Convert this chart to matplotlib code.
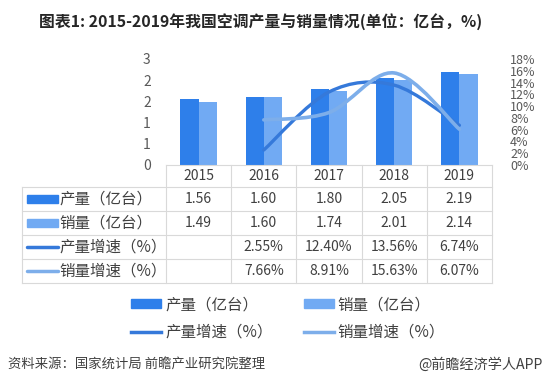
import numpy as np
import matplotlib
matplotlib.use('Agg')
import matplotlib.pyplot as plt
from matplotlib.path import Path
from matplotlib.patches import PathPatch, Rectangle
from matplotlib.lines import Line2D

plt.rcParams['font.family'] = ['Noto Sans CJK SC', 'DejaVu Sans']

YEARS = ['2015', '2016', '2017', '2018', '2019']
OUTPUT = [1.56, 1.60, 1.80, 2.05, 2.19]
SALES = [1.49, 1.60, 1.74, 2.01, 2.14]
OUTPUT_GROWTH = [None, 2.55, 12.40, 13.56, 6.74]
SALES_GROWTH = [None, 7.66, 8.91, 15.63, 6.07]

ROW_LABELS = ['产量（亿台）', '销量（亿台）', '产量增速（%）', '销量增速（%）']

C_OUT_BAR = '#2E7FEA'
C_SALES_BAR = '#71AAF3'
C_OUT_LINE = '#3579DA'
C_SALES_LINE = '#7DAEEA'
GRID = '#D9D9D9'
TXT = '#404040'

W, H = 548, 387
L, R = 166, 492          # plot / table column area (px)
TOP, BOT = 59, 165       # value axis (px)
TAB_L, TAB_B = 22, 283   # table outer edges (px)
CW = (R - L) / 5


def smooth_path(xs, ys):
    # Catmull-Rom style bezier, like excel's "smoothed line"
    n = len(xs)
    verts = [(xs[0], ys[0])]
    codes = [Path.MOVETO]
    for i in range(n - 1):
        a = i - 1 if i > 0 else i
        d = i + 2 if i + 2 < n else i + 1
        c1 = (xs[i] + (xs[i + 1] - xs[a]) / 6, ys[i] + (ys[i + 1] - ys[a]) / 6)
        c2 = (xs[i + 1] - (xs[d] - xs[i]) / 6, ys[i + 1] - (ys[d] - ys[i]) / 6)
        verts += [c1, c2, (xs[i + 1], ys[i + 1])]
        codes += [Path.CURVE4] * 3
    return Path(verts, codes)


fig = plt.figure(figsize=(W / 100, H / 100), dpi=100)

ax = fig.add_axes([L / W, 1 - BOT / H, (R - L) / W, (BOT - TOP) / H])
x = np.arange(len(YEARS)) + 0.5
bw = 0.28
ax.bar(x - bw / 2, OUTPUT, bw, color=C_OUT_BAR, zorder=2)
ax.bar(x + bw / 2, SALES, bw, color=C_SALES_BAR, zorder=2)
ax.set_xlim(0, 5)
ax.set_ylim(0, 2.5)
yt = np.arange(0, 2.51, 0.5)
ax.set_yticks(yt)
ax.set_yticklabels([str(int(v + 0.5)) for v in yt])
ax.set_xticks([])
ax.tick_params(axis='y', length=0, pad=11, labelsize=10, labelcolor='#595959')
for s in ['top', 'right', 'left']:
    ax.spines[s].set_visible(False)
ax.spines['bottom'].set_color(GRID)

ax2 = ax.twinx()
ax2.set_ylim(0, 18)
ax2.set_yticks(np.arange(0, 19, 2))
ax2.set_yticklabels([f'{v}%' for v in range(0, 19, 2)])
ax2.tick_params(axis='y', length=0, pad=13, labelsize=9, labelcolor='#595959')
for s in ax2.spines.values():
    s.set_visible(False)

for vals, col, lw in [(OUTPUT_GROWTH, C_OUT_LINE, 2.4), (SALES_GROWTH, C_SALES_LINE, 2.6)]:
    xs = [xi for xi, v in zip(x, vals) if v is not None]
    ys = [v for v in vals if v is not None]
    ax2.add_patch(PathPatch(smooth_path(xs, ys), fill=False, edgecolor=col,
                            lw=lw, capstyle='round', zorder=3))

# data table below the chart
tax = fig.add_axes([TAB_L / W, 1 - TAB_B / H, (R - TAB_L) / W, (TAB_B - BOT) / H])
tax.set_xlim(-(L - TAB_L) / CW, 5)
tax.set_ylim(TAB_B - BOT, 0)
tax.axis('off')
rows = [0, 22, 46, 70, 94, 118]
x0 = -(L - TAB_L) / CW
for r in rows[1:]:
    tax.plot([x0, 5], [r, r], color=GRID, lw=0.8, clip_on=False)
tax.plot([x0, x0], [rows[1], rows[-1]], color=GRID, lw=0.8, clip_on=False)
for i in range(6):
    tax.plot([i, i], [0, rows[-1]], color=GRID, lw=0.8, clip_on=False)

for i, yr in enumerate(YEARS):
    tax.text(i + 0.5, 11, yr, ha='center', va='center', fontsize=10, color=TXT)

table_vals = [
    [f'{v:.2f}' for v in OUTPUT],
    [f'{v:.2f}' for v in SALES],
    ['' if v is None else f'{v:.2f}%' for v in OUTPUT_GROWTH],
    ['' if v is None else f'{v:.2f}%' for v in SALES_GROWTH],
]
px = lambda p: (p - L) / CW
for r, (lab, vals) in enumerate(zip(ROW_LABELS, table_vals)):
    yc = (rows[r + 1] + rows[r + 2]) / 2
    for i, v in enumerate(vals):
        tax.text(i + 0.5, yc, v, ha='center', va='center', fontsize=10, color=TXT)
    if r < 2:
        col = C_OUT_BAR if r == 0 else C_SALES_BAR
        tax.add_patch(Rectangle((px(27), yc - 4), px(58) - px(27), 8, color=col, clip_on=False))
    else:
        col = C_OUT_LINE if r == 2 else C_SALES_LINE
        tax.plot([px(27), px(58)], [yc, yc], color=col, lw=2.5, clip_on=False,
                 solid_capstyle='round')
    tax.text(px(59), yc, lab, ha='left', va='center', fontsize=11.2, color=TXT)

# legend
handles = [
    Rectangle((0, 0), 1, 1, color=C_OUT_BAR),
    Line2D([], [], color=C_OUT_LINE, lw=2.5),
    Rectangle((0, 0), 1, 1, color=C_SALES_BAR),
    Line2D([], [], color=C_SALES_LINE, lw=2.5),
]
labels = [ROW_LABELS[0], ROW_LABELS[2], ROW_LABELS[1], ROW_LABELS[3]]
leg = fig.legend(handles, labels, ncol=2, loc='center', bbox_to_anchor=(288 / W, 1 - 318.5 / H),
                 frameon=False, fontsize=11.2, handlelength=1.95, handleheight=0.55,
                 handletextpad=0.25, columnspacing=2.0, labelspacing=0.7)
for t in leg.get_texts():
    t.set_color(TXT)

fig.text(261 / W, 1 - 22 / H, '图表1: 2015-2019年我国空调产量与销量情况(单位：亿台，%)',
         ha='center', va='center', fontsize=11.4, fontweight='bold', color='#262626')
fig.text(8 / W, 1 - 365 / H, '资料来源：国家统计局 前瞻产业研究院整理',
         ha='left', va='center', fontsize=9.6, color=TXT)
fig.text(543 / W, 1 - 365 / H, '@前瞻经济学人APP',
         ha='right', va='center', fontsize=10.2, color=TXT)

fig.savefig('out.png', dpi=100)
